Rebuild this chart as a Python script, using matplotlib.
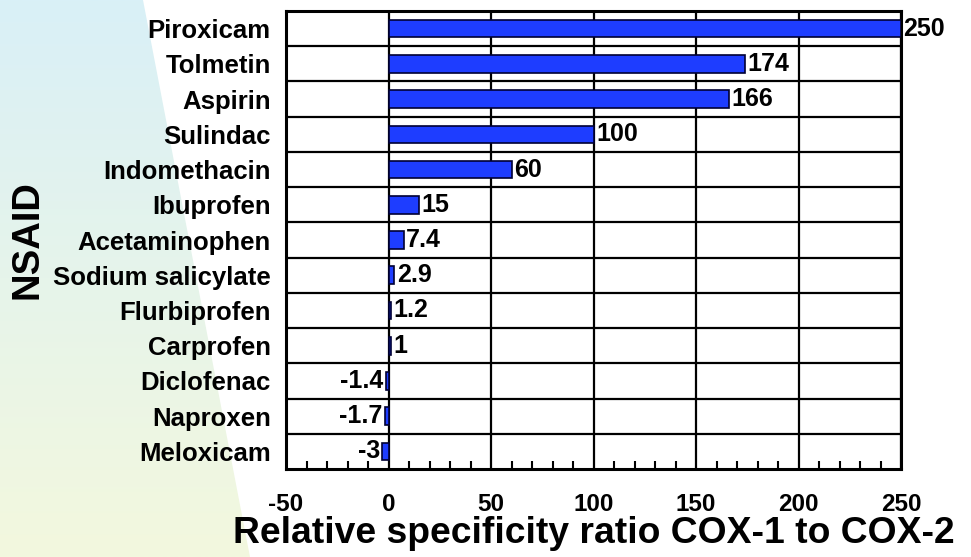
import matplotlib
matplotlib.use("Agg")
import matplotlib.pyplot as plt
import numpy as np
from matplotlib.patches import Polygon
from matplotlib.ticker import MultipleLocator

drugs = ["Piroxicam", "Tolmetin", "Aspirin", "Sulindac", "Indomethacin", "Ibuprofen",
         "Acetaminophen", "Sodium salicylate", "Flurbiprofen", "Carprofen",
         "Diclofenac", "Naproxen", "Meloxicam"]
ratio = [250, 174, 166, 100, 60, 15, 7.4, 2.9, 1.2, 1, -1.4, -1.7, -3]
ratio_txt = ["250", "174", "166", "100", "60", "15", "7.4", "2.9", "1.2", "1", "-1.4", "-1.7", "-3"]
xticks = [-50, 0, 50, 100, 150, 200, 250]

plt.rcParams['font.family'] = ['Liberation Sans', 'DejaVu Sans']
plt.rcParams['font.weight'] = 'bold'

fig = plt.figure(figsize=(9.71, 5.57), dpi=100)

# background wedge with gradient
bg = fig.add_axes([0, 0, 1, 1], zorder=-10)
bg.set_xlim(0, 1)
bg.set_ylim(0, 1)
bg.axis('off')
top = np.array([217, 240, 247]) / 255
bot = np.array([243, 248, 222]) / 255
t = np.linspace(0, 1, 256)[:, None]
grad = (top[None, :] * (1 - t) + bot[None, :] * t)[:, None, :]
im = bg.imshow(grad, extent=[0, 1, 0, 1], origin='upper', aspect='auto')
wedge = Polygon([(0, 1), (143 / 971, 1), (250 / 971, 0), (0, 0)], closed=True,
                transform=bg.transAxes, facecolor='none', edgecolor='none')
bg.add_patch(wedge)
im.set_clip_path(wedge)

ax = fig.add_axes([286 / 971, 1 - 469 / 557, 615 / 971, 458 / 557])
ax.set_facecolor('white')
y = np.arange(len(drugs))
ax.barh(y, ratio, height=0.5, color='#1E3DFF', edgecolor='#000033', linewidth=1.2, zorder=3)
ax.set_xlim(-50, 250)
ax.set_ylim(len(drugs) - 0.5, -0.5)
ax.set_yticks(y)
ax.set_yticklabels(drugs, fontsize=18.5)
ax.set_xticks(xticks)
ax.set_xticklabels([str(v) for v in xticks], fontsize=17.5)
ax.xaxis.set_minor_locator(MultipleLocator(10))
ax.tick_params(axis='y', length=0, pad=11)
ax.tick_params(axis='x', which='both', direction='in', length=6, width=1.5, pad=17)
ax.tick_params(axis='x', which='major', length=0)

for v in xticks:
    ax.axvline(v, color='black', lw=1.6, zorder=2)
for k in range(len(drugs) - 1):
    ax.axhline(k + 0.5, color='black', lw=1.6, zorder=2)
for s in ax.spines.values():
    s.set_linewidth(2.2)

for yi, v, lab in zip(y, ratio, ratio_txt):
    if v >= 0:
        ax.text(v + 1.2, yi, lab, ha='left', va='center', fontsize=18,
                fontweight='bold', clip_on=False, zorder=4)
    else:
        ax.text(v - 1.2, yi, lab, ha='right', va='center', fontsize=18,
                fontweight='bold', zorder=4)

ax.set_xlabel("Relative specificity ratio COX-1 to COX-2", fontsize=26.8, fontweight='bold', labelpad=0)
fig.text(27 / 971, 1 - 240 / 557, "NSAID", rotation=90, fontsize=27.5, fontweight='bold',
         ha='center', va='center')

fig.savefig("out.png", dpi=100)
